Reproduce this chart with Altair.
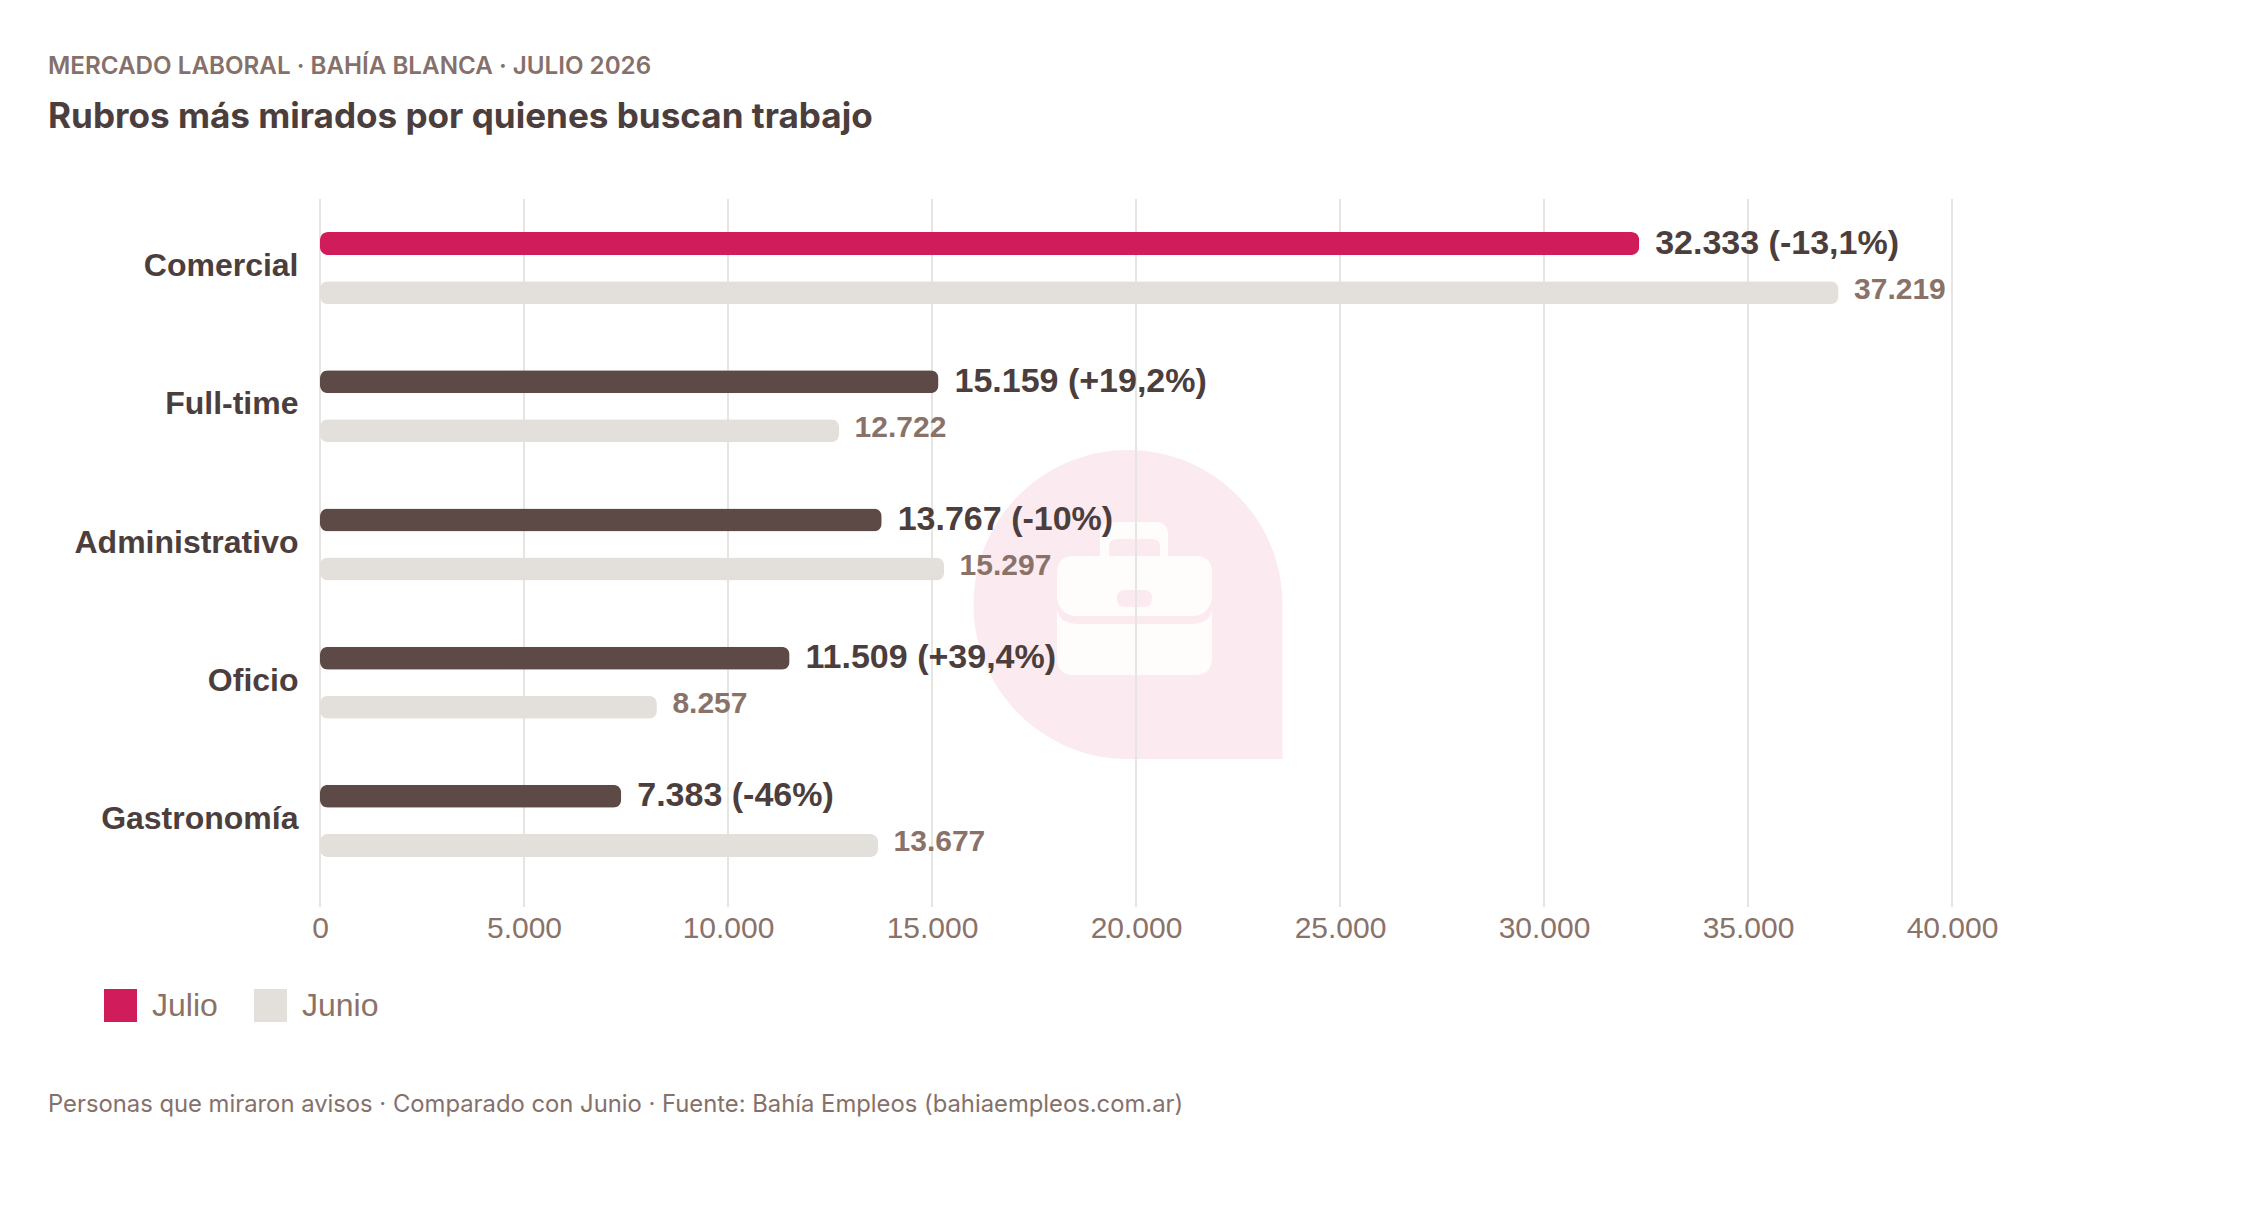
import altair as alt
import pandas as pd

rubros = ["Comercial", "Full-time", "Administrativo", "Oficio", "Gastronomía"]
julio = [32333, 15159, 13767, 11509, 7383]
junio = [37219, 12722, 15297, 8257, 13677]
cambio = ["-13,1%", "+19,2%", "-10%", "+39,4%", "-46%"]
grid_values = [0, 5000, 10000, 15000, 20000, 25000, 30000, 35000, 40000]

CRIMSON = "#D01C5B"
BROWN = "#5D4A47"
GREY = "#E3E0DB"
DARK = "#4B3E3C"
MUTED = "#8A7269"
GRIDC = "#E7E5E1"


def miles(v):
    return f"{v:,}".replace(",", ".")


rows = []
for r, a, b, c in zip(rubros, julio, junio, cambio):
    rows.append({"rubro": r, "serie": "Julio", "valor": a, "texto": f"{miles(a)} ({c})"})
    rows.append({"rubro": r, "serie": "Junio", "valor": b, "texto": miles(b)})
df = pd.DataFrame(rows)

x_scale = alt.Scale(domain=[0, 40000], nice=False)
x_axis = alt.Axis(
    title=None, values=grid_values, domain=False, ticks=False, grid=False, labelFontSize=30,
    labelFont="Liberation Sans", labelColor=MUTED, labelPadding=23, labelFlush=False, labelOverlap=False,
    labelExpr="replace(format(datum.value, ','), ',', '.')",
)
y_enc = alt.Y(
    "rubro:N",
    sort=rubros,
    scale=alt.Scale(paddingInner=0.29, paddingOuter=0.145),
    axis=alt.Axis(
        title=None, domain=False, ticks=False, labelFontSize=32, labelFontWeight="bold",
        labelFont="Liberation Sans", labelColor=DARK, labelPadding=22, labelLimit=400, labelOffset=-2,
    ),
)
yo_enc = alt.YOffset("serie:N", sort=["Julio", "Junio"], scale=alt.Scale(paddingInner=0, paddingOuter=0))

# Watermark, positioned in plot pixels
mark_df = pd.DataFrame({"k": [1]})


def wm(path, color):
    return alt.Chart(mark_df).mark_point(
        shape=path, size=309 ** 2, filled=True, fill=color, opacity=1, strokeWidth=0
    ).encode(x=alt.value(808), y=alt.value(405.5))


N = lambda X, Y: f"{(X-1128)/154.5:.4f} {(Y-604.5)/154.5:.4f}"


def rrect(x0, y0, x1, y1, r):
    return (
        f"M{N(x0+r,y0)} L{N(x1-r,y0)} Q{N(x1,y0)} {N(x1,y0+r)} L{N(x1,y1-r)} Q{N(x1,y1)} {N(x1-r,y1)} "
        f"L{N(x0+r,y1)} Q{N(x0,y1)} {N(x0,y1-r)} L{N(x0,y0+r)} Q{N(x0,y0)} {N(x0+r,y0)} Z"
    )


k = 0.5523
tear = (
    f"M-1 0 C-1 {-k} {-k} -1 0 -1 C{k} -1 1 {-k} 1 0 L1 1 L0 1 C{-k} 1 -1 {k} -1 0 Z"
)
W_PINK = "#FBEBF0"
W_CREAM = "#FEFDFB"
handle = rrect(1100, 522, 1168, 575, 13)
handle_in = rrect(1109, 539, 1160, 575, 8)
body = rrect(1057, 556, 1212, 675, 17)
gap = (
    f"M{N(1057,610)} Q{N(1060,624)} {N(1078,624)} L{N(1191,624)} Q{N(1209,624)} {N(1212,610)} "
    f"L{N(1212,598)} Q{N(1209,616)} {N(1191,616)} L{N(1078,616)} Q{N(1060,616)} {N(1057,598)} Z"
)
clasp = rrect(1117, 590, 1152, 607, 8)

layers = [
    wm(tear, W_PINK),
    wm(handle, W_CREAM),
    wm(handle_in, W_PINK),
    wm(body, W_CREAM),
    wm(gap, W_PINK),
    wm(clasp, W_PINK),
]

grid = alt.Chart(pd.DataFrame({"g": grid_values})).mark_rule(color=GRIDC, strokeWidth=2).encode(
    x=alt.X("g:Q", scale=x_scale, axis=x_axis),
    y=alt.value(0),
    y2=alt.value(708),
)

bars = alt.Chart(df).mark_bar(height=23, cornerRadius=8).encode(
    x=alt.X("valor:Q", scale=x_scale, axis=x_axis),
    y=y_enc,
    yOffset=yo_enc,
    color=alt.condition(
        "datum.serie == 'Julio' && datum.rubro != 'Comercial'",
        alt.value(BROWN),
        alt.Color(
            "serie:N",
            scale=alt.Scale(domain=["Julio", "Junio"], range=[CRIMSON, GREY]),
            legend=alt.Legend(
                title=None, orient="none", legendX=-216, legendY=790, direction="horizontal",
                symbolType="square", symbolSize=1089, symbolStrokeWidth=0, labelFontSize=32,
                labelFont="Liberation Sans", labelColor=MUTED, labelOffset=15, columnPadding=36,
                labelLimit=200,
            ),
        ),
    ),
)

lab_j = alt.Chart(df[df.serie == "Julio"]).mark_text(
    align="left", baseline="middle", dx=16, fontSize=34, fontWeight="bold", font="Liberation Sans", color=DARK
).encode(x=alt.X("valor:Q", scale=x_scale, axis=x_axis), y=alt.Y("rubro:N", sort=rubros), yOffset=yo_enc, text="texto:N")

lab_n = alt.Chart(df[df.serie == "Junio"]).mark_text(
    align="left", baseline="middle", dx=15.5, dy=-3, fontSize=30, fontWeight="bold", font="Liberation Sans", color=MUTED
).encode(x=alt.X("valor:Q", scale=x_scale, axis=x_axis), y=alt.Y("rubro:N", sort=rubros), yOffset=yo_enc, text="texto:N")


def label(txt, x, y, size, color, weight="normal"):
    return alt.Chart(pd.DataFrame({"t": [txt]})).mark_text(
        align="left", baseline="middle", font="Inter", fontSize=size, fontWeight=weight, color=color
    ).encode(x=alt.value(x), y=alt.value(y), text="t:N")


eyebrow = label("MERCADO LABORAL · BAHÍA BLANCA · JULIO 2026", -272, -132.5, 24.2, "#86706A", 600)
title = label("Rubros más mirados por quienes buscan trabajo", -272, -82.5, 35.1, DARK, 700)
footer = label(
    "Personas que miraron avisos · Comparado con Junio · Fuente: Bahía Empleos (bahiaempleos.com.ar)",
    -272, 906, 23.8, "#86706A", 400,
)

chart = alt.layer(
    *layers, grid, bars, lab_j, lab_n, eyebrow, title, footer
).resolve_scale(
    y="shared", x="shared"
).properties(
    width=1632,
    height=691,
    background="white",
    padding={"left": 312, "top": 191, "right": 296, "bottom": 290},
    autosize=alt.AutoSizeParams(type="none"),
).configure_view(stroke=None)

chart.save("out.html", embed_options={"renderer": "svg", "actions": False})
